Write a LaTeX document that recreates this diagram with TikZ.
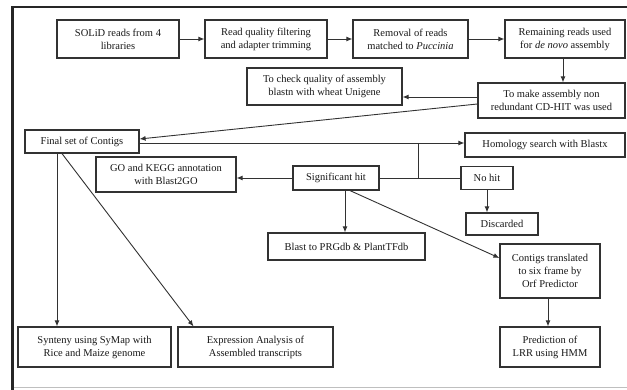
\documentclass[tikz,border=0pt]{standalone}
\usepackage{fontspec}
\setmainfont{Liberation Serif}
\usepackage{tikz}
\usetikzlibrary{arrows.meta,positioning,calc}
\definecolor{boxline}{RGB}{50,50,50}
\definecolor{inktext}{RGB}{25,25,25}

\begin{document}
\begin{tikzpicture}[x=1pt, y=-1pt, every node/.style={font=\fontsize{10.5}{13}\selectfont, text=inktext},
  box/.style={draw=boxline, line width=1.2pt, fill=white, align=center, inner sep=2pt},
  arr/.style={-{Latex[length=6pt,width=5pt]}, line width=0.9pt, draw=boxline},
  lin/.style={line width=0.9pt, draw=boxline}]
\useasboundingbox (0,0) rectangle (627,390);
% frame
\draw[line width=2.6pt, black!85] (12.5,390) -- (12.5,7) -- (627,7);
\draw[line width=0.8pt, black!25] (14,387) -- (627,387);
% pipeline
\node[box, minimum width=122pt, minimum height=38pt] (solid) at (118,39) {SOLiD reads from 4\\libraries};
\node[box, minimum width=122pt, minimum height=38pt] (rqf) at (266,39) {Read quality filtering\\and adapter trimming};
\node[box, minimum width=115pt, minimum height=38pt] (rem) at (410.5,39) {Removal of reads\\matched to \textit{Puccinia}};
\node[box, minimum width=120pt, minimum height=38pt] (remain) at (565,39) {Remaining reads used\\for \textit{de novo} assembly};
\node[box, minimum width=155pt, minimum height=37pt] (check) at (324.5,86.5) {To check quality of assembly\\blastn with wheat Unigene};
\node[box, minimum width=147pt, minimum height=35pt] (cdhit) at (551.5,100.5) {To make assembly non\\redundant CD-HIT was used};
\node[box, minimum width=114pt, minimum height=23pt] (contigs) at (82,141.5) {Final set of Contigs};
\node[box, minimum width=160pt, minimum height=24pt] (homology) at (545,145) {Homology search with Blastx};
\node[box, minimum width=86pt, minimum height=24pt] (sig) at (336,178) {Significant hit};
\node[box, minimum width=52pt, minimum height=23pt] (nohit) at (487,178) {No hit};
\node[box, minimum width=72pt, minimum height=22pt] (discard) at (502,224) {Discarded};
\node[box, minimum width=140pt, minimum height=35pt] (gokegg) at (166,174.5) {GO and KEGG annotation\\with Blast2GO};
\node[box, minimum width=157pt, minimum height=27pt] (prgdb) at (346.5,246.5) {Blast to PRGdb \& PlantTFdb};
\node[box, minimum width=100pt, minimum height=54pt] (trans) at (550,271) {Contigs translated\\to six frame by\\Orf Predictor};
\node[box, minimum width=100pt, minimum height=40pt] (lrr) at (550,347) {Prediction of\\LRR using HMM};
\node[box, minimum width=153pt, minimum height=40pt] (synteny) at (94.5,347) {Synteny using SyMap with\\Rice and Maize genome};
\node[box, minimum width=155pt, minimum height=40pt] (expr) at (255.5,347) {Expression Analysis of\\Assembled transcripts};
% connectors
\draw[arr] (solid) -- (rqf);
\draw[arr] (rqf) -- (rem);
\draw[arr] (rem) -- (remain);
\draw[arr] ([xshift=-2pt]remain.south) -- ([xshift=-2pt]remain.south |- cdhit.north);
\draw[arr] ([yshift=3.5pt]cdhit.west) -- ([yshift=3.5pt]cdhit.west -| check.east);
\draw[arr] ([yshift=-3.5pt]cdhit.west) -- ([yshift=2.5pt]contigs.east);
\draw[arr] ([yshift=-1.5pt]contigs.east) -- ([yshift=-1.5pt]contigs.east -| homology.west);
\coordinate (branch) at (418,143);
\draw[lin] (branch) -- (branch |- sig.east);
\draw[lin] (sig) -- (nohit);
\draw[arr] (sig.west) -- (sig.west -| gokegg.east);
\draw[arr] ([xshift=9pt]sig.south) -- ([xshift=9pt]sig.south |- prgdb.north);
\draw[arr] ([xshift=14pt]sig.south) -- ([yshift=13pt]trans.west);
\draw[arr] (nohit) -- (nohit |- discard.north);
\draw[arr] ([xshift=-2pt]trans.south) -- ([xshift=-2pt]trans.south |- lrr.north);
\draw[arr] ([xshift=-25pt]contigs.south) -- ([xshift=-25pt]contigs.south |- synteny.north);
\draw[arr] ([xshift=-20pt]contigs.south) -- ([xshift=-62pt]expr.north);
\end{tikzpicture}
\end{document}
